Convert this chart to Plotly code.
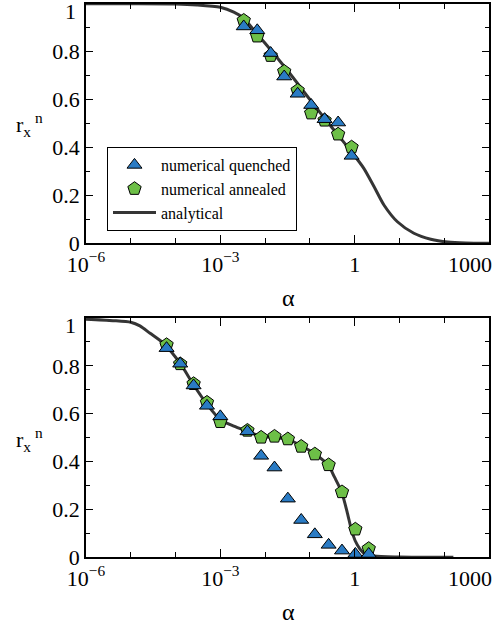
import plotly.graph_objects as go

# ---------------- data ----------------
# top panel
top_alpha_pts = [0.00333, 0.00667, 0.0133, 0.0267, 0.0533, 0.107, 0.213, 0.427, 0.853]
top_quenched = [0.905, 0.889, 0.794, 0.696, 0.624, 0.577, 0.518, 0.504, 0.365]
top_annealed = [0.930, 0.864, 0.783, 0.717, 0.638, 0.543, 0.513, 0.455, 0.401]

top_curve_alpha = [1e-6, 1e-5, 1e-4, 3e-4, 1e-3, 2e-3, 3.3e-3, 5.6e-3, 1e-2, 3.2e-2,
                   1e-1, 3.2e-1, 0.9, 1.6, 2.7, 4.5, 9, 21, 50, 120, 300, 1000]
top_curve_r = [1.0, 1.0, 0.999, 0.995, 0.985, 0.965, 0.94, 0.89, 0.835, 0.72,
               0.60, 0.48, 0.376, 0.313, 0.237, 0.160, 0.090, 0.042, 0.017, 0.005, 0.001, 0.0]

# bottom panel
bot_alpha_pts = [6.3e-5, 1.27e-4, 2.53e-4, 5.03e-4, 1e-3, 4.03e-3, 8.15e-3, 1.62e-2,
                 3.22e-2, 6.4e-2, 0.129, 0.262, 0.521, 1.035, 2.06]
bot_quenched = [0.874, 0.809, 0.718, 0.633, 0.589, 0.526, 0.424, 0.375,
                0.245, 0.156, 0.096, 0.052, 0.028, 0.014, 0.014]
bot_annealed = [0.888, 0.808, 0.725, 0.647, 0.566, 0.530, 0.501, 0.505,
                0.494, 0.463, 0.431, 0.386, 0.273, 0.117, 0.036]

bot_curve_alpha = [1e-6, 4e-6, 1e-5, 1.6e-5, 2.7e-5, 5.4e-5, 1.27e-4, 2.5e-4, 5e-4,
                   1e-3, 2e-3, 4e-3, 8e-3, 1.6e-2, 3.2e-2, 6.4e-2, 0.13, 0.26, 0.35,
                   0.51, 0.69, 0.89, 1.15, 1.6, 2.7, 10, 160]
bot_curve_r = [0.995, 0.989, 0.982, 0.967, 0.936, 0.894, 0.81, 0.722, 0.64,
               0.575, 0.548, 0.527, 0.506, 0.500, 0.494, 0.466, 0.432, 0.384, 0.337,
               0.274, 0.184, 0.100, 0.051, 0.017, 0.005, 0.001, 0.0]

x_tickvals = [1e-6, 1e-3, 1, 1000]
x_ticktext = ["10<sup>\u22126</sup>", "10<sup>\u22123</sup>", "1", ""]
x_minorvals = [1e-5, 1e-4, 1e-2, 1e-1, 10, 100]
y_tickvals = [0, 0.2, 0.4, 0.6, 0.8]
y_ticktext = ["0", "0.2", "0.4", "0.6", "0.8"]

names = ["numerical quenched", "numerical annealed", "analytical"]

# ---------------- styles ----------------
FONT = "Liberation Serif"
BLUE = "#2a7bc4"
GREEN = "#6dbf47"
LINE = "#353535"
W, H = 504, 625

fig = go.Figure()

panels = [
    ("x", "y", top_curve_alpha, top_curve_r, top_alpha_pts, top_quenched, top_annealed, True),
    ("x2", "y2", bot_curve_alpha, bot_curve_r, bot_alpha_pts, bot_quenched, bot_annealed, False),
]
for xa, ya, ca, cr, pa, q, a, show in panels:
    fig.add_trace(go.Scatter(x=ca, y=cr, mode="lines", xaxis=xa, yaxis=ya,
                             line=dict(color=LINE, width=3, shape="spline", smoothing=0.7),
                             name=names[2], showlegend=show, legendrank=3))
    fig.add_trace(go.Scatter(x=pa, y=a, mode="markers", xaxis=xa, yaxis=ya,
                             marker=dict(symbol="pentagon", size=14, color=GREEN,
                                         line=dict(color="black", width=1)),
                             name=names[1], showlegend=show, legendrank=2))
    fig.add_trace(go.Scatter(x=pa, y=q, mode="markers", xaxis=xa, yaxis=ya,
                             marker=dict(symbol="triangle-up", size=13, color=BLUE,
                                         line=dict(color="black", width=1)),
                             name=names[0], showlegend=show, legendrank=1))

xdom = [86 / W, 489 / W]
top_dom = [(H - 243.3) / H, (H - 3.7) / H]
bot_dom = [(H - 557.3) / H, (H - 318) / H]

def xaxis_style(anchor):
    return dict(type="log", range=[-6, 3], domain=xdom, anchor=anchor,
                tickvals=x_tickvals, ticktext=x_ticktext,
                ticks="inside", ticklen=8, tickwidth=1.2, tickcolor="black",
                minor=dict(tickvals=x_minorvals, ticks="inside", ticklen=5,
                           tickwidth=1.2, tickcolor="black", showgrid=False),
                showline=True, linecolor="black", linewidth=1.8, mirror="allticks",
                showgrid=False, zeroline=False,
                tickfont=dict(family=FONT, size=22, color="black"))

def yaxis_style(anchor, dom):
    return dict(range=[0, 1], domain=dom, anchor=anchor,
                tickvals=y_tickvals, ticktext=y_ticktext,
                ticks="inside", ticklen=7, tickwidth=1.2, tickcolor="black",
                minor=dict(dtick=0.1, ticks="inside", ticklen=4,
                           tickwidth=1.2, tickcolor="black", showgrid=False),
                showline=True, linecolor="black", linewidth=1.8, mirror="allticks",
                showgrid=False, zeroline=False,
                tickfont=dict(family=FONT, size=22, color="black"))

annotations = []
for dom in (top_dom, bot_dom):
    top_px = H - dom[1] * H
    bot_px = H - dom[0] * H
    annotations.append(dict(text="1", xref="paper", yref="paper", x=78 / W,
                            y=(H - (top_px + 7.5)) / H, xanchor="right", yanchor="middle",
                            showarrow=False, font=dict(family=FONT, size=22, color="black")))
    annotations.append(dict(text="1000", xref="paper", yref="paper", x=494 / W,
                            y=(H - (bot_px + 21)) / H, xanchor="right", yanchor="middle",
                            showarrow=False, font=dict(family=FONT, size=22, color="black")))
    annotations.append(dict(text="\u03b1", xref="paper", yref="paper", x=288 / W,
                            y=(H - (bot_px + 55)) / H, xanchor="center", yanchor="middle",
                            showarrow=False, font=dict(family=FONT, size=24, color="black")))
    annotations.append(dict(text="r<sub>x</sub><sup> n</sup>", xref="paper", yref="paper",
                            x=14 / W, y=(H - (top_px + 121)) / H, xanchor="left",
                            yanchor="middle", showarrow=False,
                            font=dict(family=FONT, size=22, color="black")))

fig.update_layout(
    template="none",
    width=W, height=H,
    margin=dict(l=0, r=0, t=0, b=0, autoexpand=False),
    paper_bgcolor="white", plot_bgcolor="white",
    font=dict(family=FONT, color="black"),
    xaxis=xaxis_style("y"),
    yaxis=yaxis_style("x", top_dom),
    xaxis2=xaxis_style("y2"),
    yaxis2=yaxis_style("x2", bot_dom),
    showlegend=True,
    legend=dict(x=107 / W, y=(H - 147) / H, xanchor="left", yanchor="top",
                bordercolor="black", borderwidth=1, bgcolor="white",
                font=dict(family=FONT, size=16, color="black"),
                itemwidth=43, tracegroupgap=0),
    annotations=annotations,
)

fig.write_html("out.html", config={"displayModeBar": False},
               post_script="document.body.style.margin='0';document.body.style.overflow='hidden';")
